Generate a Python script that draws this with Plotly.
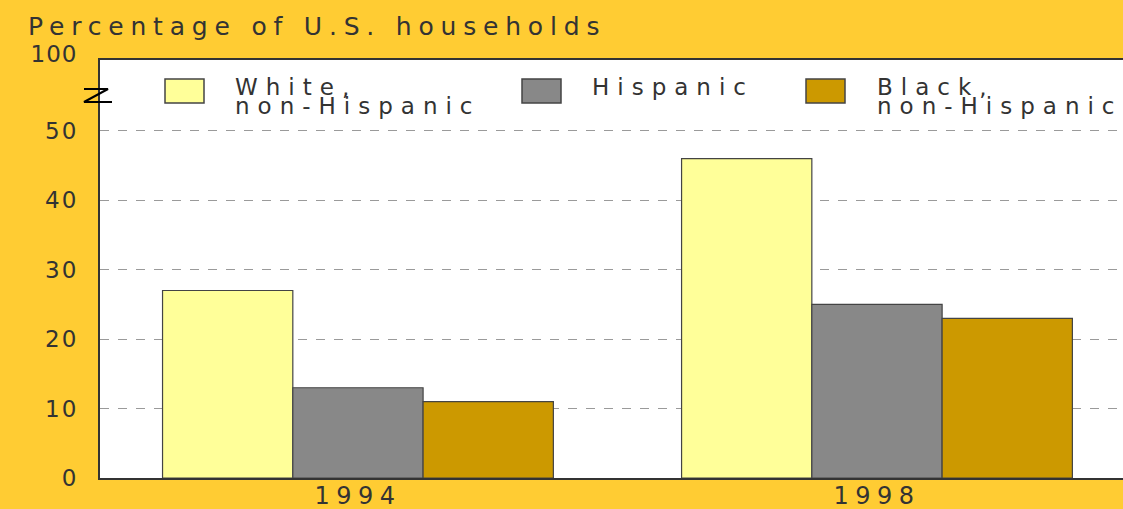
import plotly.graph_objects as go

years = ["1994", "1998"]
series_names = ["White,<br>non-Hispanic", "Hispanic", "Black,<br>non-Hispanic"]
white_vals = [27, 46]
hispanic_vals = [13, 25]
black_vals = [11, 23]
y_tick_vals = [0, 10, 20, 30, 40, 50]
y_tick_text = ["0", "10", "20", "30", "40", "50"]
top_label = "100"

colors = ["#FFFF99", "#888888", "#CC9900"]
FONT = "DejaVu Sans"
TXT = "#333333"

W, H = 1123, 509
ML, MR, MT, MB = 100, 0, 60, 31
PW, PH = W - ML - MR, H - MT - MB


def px_x(px):
    return (px - ML) / PW


def px_y(py):
    return (H - MB - py) / PH


x_pos = [0, 1]
fig = go.Figure()
for name, vals, col in zip(series_names, [white_vals, hispanic_vals, black_vals], colors):
    fig.add_trace(go.Bar(
        x=x_pos, y=vals, name=name.replace("<br>", " "), showlegend=False,
        marker=dict(color=col, line=dict(color="#444444", width=1.2)),
    ))

fig.update_layout(
    width=W, height=H,
    paper_bgcolor="#FFCC33", plot_bgcolor="#FFFFFF",
    margin=dict(l=ML, r=MR, t=MT, b=MB),
    barmode="group", bargap=0.247, bargroupgap=0,
    font=dict(family=FONT, size=22, color=TXT),
    title=dict(text="Percentage of U.S. households", xref="container", yref="container",
               x=28 / W, xanchor="left", y=1 - 26 / H, yanchor="middle",
               font=dict(family=FONT, size=25, color=TXT)),
)
fig.update_xaxes(range=[-0.497, 1.474], tickvals=x_pos, ticktext=years,
                 showgrid=False, showline=True, linecolor="#333333", linewidth=2,
                 mirror=True, ticks="", ticklabelstandoff=-5,
                 tickfont=dict(size=24, color=TXT), automargin=False)
fig.update_yaxes(range=[0, 60.2], tickvals=y_tick_vals, ticktext=y_tick_text,
                 showgrid=True, gridcolor="#9A9A9A", griddash="dash", gridwidth=1,
                 zeroline=False, showline=True, linecolor="#333333", linewidth=2,
                 ticks="", ticklabelstandoff=15,
                 tickfont=dict(size=23, color=TXT), automargin=False)

# "100" label at the top of the broken axis
fig.add_annotation(text=top_label, xref="paper", x=px_x(77), xanchor="right",
                   yref="paper", y=px_y(54), yanchor="middle", showarrow=False,
                   borderpad=0, font=dict(family=FONT, size=23, color=TXT))
# axis-break mark
fig.add_shape(type="path", xref="paper", yref="paper",
              path=f"M {px_x(84)} {px_y(89)} L {px_x(108)} {px_y(89)} "
                   f"L {px_x(84)} {px_y(102)} L {px_x(112)} {px_y(102)}",
              line=dict(color="#000000", width=2))

# legend drawn as boxes + text lines
box_left = [165, 522, 806]
text_left = [235, 592, 877]
legend_ann_idx = []
for i, (name, col) in enumerate(zip(series_names, colors)):
    fig.add_shape(type="rect", xref="paper", yref="paper",
                  x0=px_x(box_left[i]), x1=px_x(box_left[i] + 39),
                  y0=px_y(103), y1=px_y(79),
                  fillcolor=col, line=dict(color="#444444", width=1.5))
    for j, line in enumerate(name.split("<br>")):
        legend_ann_idx.append(len(fig.layout.annotations))
        fig.add_annotation(text=line, xref="paper", yref="paper",
                           x=px_x(text_left[i] - 1), xanchor="left", align="left",
                           y=px_y(87 + 19 * j), yanchor="middle", showarrow=False,
                           borderpad=0,
                           font=dict(family=FONT, size=23, color=TXT))

css = (".gtitle{letter-spacing:6.8px}"
       ".xtick text{letter-spacing:6.5px}"
       ".ytick text{letter-spacing:2px}"
       '.annotation[data-index="0"] text{letter-spacing:1px}'
       + "".join(f'.annotation[data-index="{k}"] text{{letter-spacing:8px}}' for k in legend_ann_idx))
post = ("document.body.style.margin='0';"
        "var s=document.createElement('style');"
        f"s.textContent='{css}';"
        "document.head.appendChild(s);")

fig.write_html("out.html", post_script=post, config={"displayModeBar": False})
